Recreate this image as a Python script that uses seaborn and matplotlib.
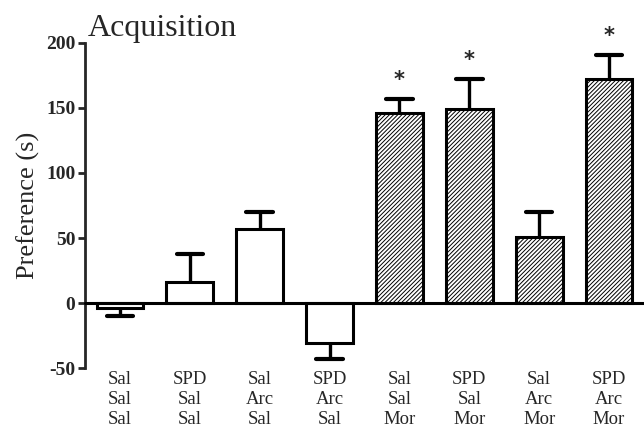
import pandas as pd
import matplotlib
matplotlib.use("Agg")
import matplotlib.pyplot as plt
import seaborn as sns

# Group labels (pretreatment / treatment / conditioning drug)
groups = [
    "Sal\nSal\nSal", "SPD\nSal\nSal", "Sal\nArc\nSal", "SPD\nArc\nSal",
    "Sal\nSal\nMor", "SPD\nSal\nMor", "Sal\nArc\nMor", "SPD\nArc\nMor",
]
preference = [-4, 16, 57, -31, 146, 149, 51, 172]
sem = [6, 22, 13, 12, 11, 23, 19, 19]
morphine = [False, False, False, False, True, True, True, True]
significant = [False, False, False, False, True, True, False, True]
yticks = [-50, 0, 50, 100, 150, 200]

sns.set_style("ticks")
plt.rcParams["font.family"] = ["Liberation Serif", "DejaVu Serif"]
plt.rcParams["hatch.linewidth"] = 0.7

df = pd.DataFrame({"group": groups, "preference": preference})

fig = plt.figure(figsize=(6.44, 4.29), dpi=100)
ax = fig.add_axes([0.132, 0.142, 0.868, 0.758])

sns.barplot(data=df, x="group", y="preference", order=groups,
            color="white", edgecolor="black", linewidth=2.2,
            width=0.67, errorbar=None, ax=ax, zorder=2)

for patch, mor in zip(ax.patches, morphine):
    patch.set_facecolor("white")
    if mor:
        patch.set_hatch("////////")

# one-sided error bars (away from zero)
xs = list(range(len(groups)))
tips = [p + s if p >= 0 else p - s for p, s in zip(preference, sem)]
ax.vlines(xs, preference, tips, color="black", lw=2.4, zorder=1)
ax.hlines(tips, [x - 0.19 for x in xs], [x + 0.19 for x in xs],
          color="black", lw=3, zorder=1, capstyle="round")

for x, t, sig in zip(xs, tips, significant):
    if sig:
        ax.text(x, t + 7, "*", ha="center", va="bottom",
                fontsize=15, fontweight="bold", family="DejaVu Sans")

ax.axhline(0, color="black", lw=2.2, zorder=3, clip_on=False)

ax.set_xlim(-0.5, 7.5)
ax.set_ylim(-50, 200)
ax.set_yticks(yticks)
ax.set_yticklabels([str(t) for t in yticks], fontweight="bold", fontsize=14)
ax.tick_params(axis="y", direction="out", length=5, width=2, pad=2)
ax.tick_params(axis="x", length=0, pad=2, labelsize=13.5)
for lbl in ax.get_xticklabels():
    lbl.set_linespacing(1.22)

sns.despine(ax=ax, top=True, right=True, bottom=True)
ax.spines["left"].set_linewidth(2)

ax.set_xlabel("")
ax.set_ylabel("Preference (s)", fontsize=19, labelpad=4)
ax.set_title("Acquisition", fontsize=23, loc="left", x=0.005, pad=1)

fig.savefig("out.png", dpi=100)
